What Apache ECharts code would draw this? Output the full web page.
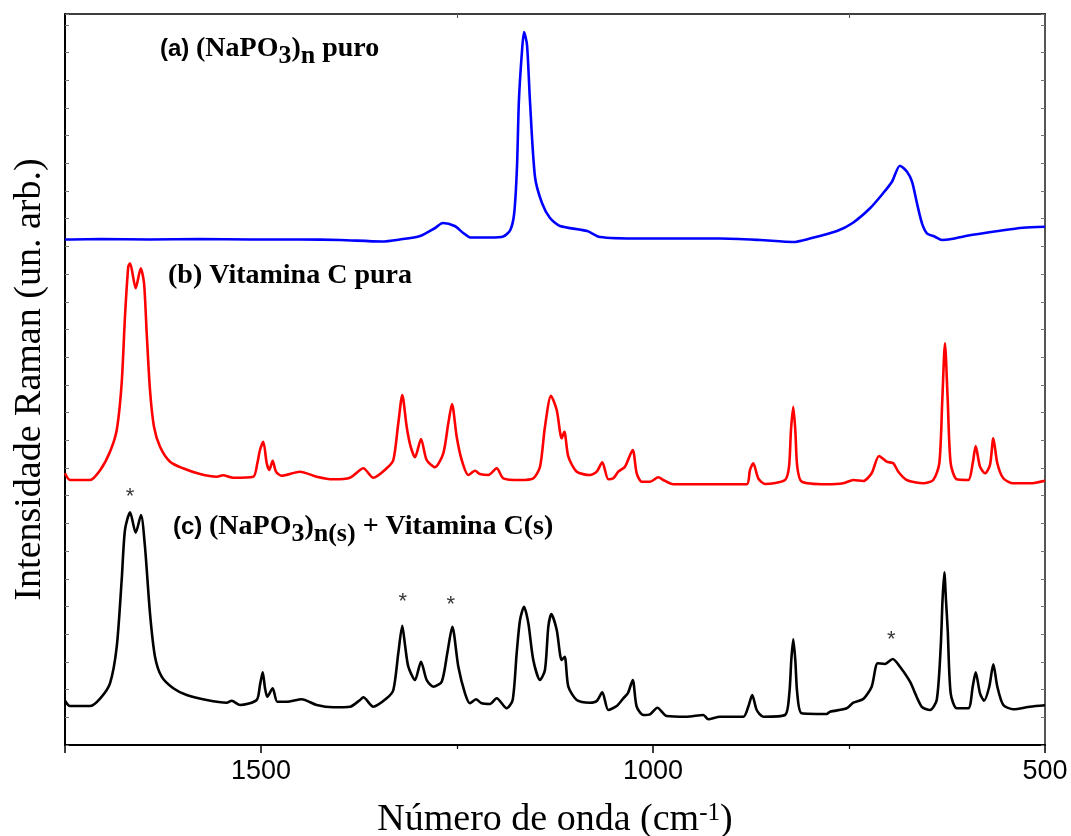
<!DOCTYPE html>
<html>
<head>
<meta charset="utf-8">
<title>Espectros Raman</title>
<script src="https://cdn.jsdelivr.net/npm/echarts/dist/echarts.min.js"></script>
<style>
  html, body { margin: 0; padding: 0; background: #fff; }
  #main { width: 1071px; height: 836px; }
</style>
</head>
<body>
<div id="main"></div>
<script>
// espectros: [numero de onda (cm-1), intensidade acima da linha de base (un. arb.)]
const specA = [
  [1750, 0.5], [1705, 1], [1642, 0.5], [1578, 1], [1514, 0.5], [1450, 0.5], [1399, 0], [1346, -1.5],
  [1323, 0.5], [1297, 4], [1278, 12], [1268, 17], [1253, 14], [1242, 7], [1233, 2.5], [1208, 2.5],
  [1191, 3.5], [1182, 10], [1177, 27], [1173.5, 73], [1171, 140], [1167, 190], [1164.5, 208], [1160.7, 195],
  [1157, 140], [1150.5, 63], [1141.6, 37], [1131.4, 22], [1118.6, 14], [1084, 9], [1067.6, 3], [1016.6, 1.5],
  [965.6, 1.5], [914.5, 1.5], [863.5, 0], [821.4, -2], [799.8, 1.5], [765.3, 9], [744.9, 17.3], [723.2, 31.7],
  [706.6, 46.7], [695.2, 58.3], [685, 74.3], [676, 68.3], [669.6, 58.3], [663.3, 36.7], [656.9, 16.7], [650.5, 6.7],
  [640.3, 3.3], [631.4, 0], [621.2, 0.7], [599.5, 4.3], [557.4, 9.3], [528.1, 12.3], [500, 13.3]
];

const specB = [
  [1750, 9.7], [1743.6, 3], [1718, 3], [1705, 13], [1692.6, 31.3], [1684, 53], [1677.7, 100], [1673.5, 166.3],
  [1669.3, 216.3], [1667, 219.7], [1659.8, 194.7], [1653.4, 214.7], [1649.2, 200], [1645.8, 150], [1641.6, 93], [1636.5, 56.3],
  [1628.8, 36.3], [1616, 21.3], [1599.5, 14.7], [1577.8, 9], [1556.5, 6.3], [1548.5, 7.7], [1535.7, 5.3], [1509.8, 6.3],
  [1504.7, 19.7], [1501.3, 33], [1497.1, 41.3], [1492.7, 19.7], [1489.4, 13], [1485.1, 22.3], [1480.9, 11.3], [1473.6, 7.3],
  [1450.3, 11.3], [1429, 6.3], [1407.8, 3.7], [1386.5, 5.3], [1373.7, 13], [1369.5, 14.7], [1356.8, 5.3], [1339.7, 14.7],
  [1331.2, 23], [1324.9, 59.7], [1319.8, 88], [1314.2, 56.3], [1309.1, 36.3], [1303.6, 25.7], [1295.9, 44], [1288.7, 23],
  [1278.1, 15.7], [1267.5, 29.7], [1261.1, 59.7], [1256.4, 79], [1250.4, 46.3], [1244, 23], [1235.6, 8], [1227, 12.3],
  [1220.7, 9], [1210.1, 8], [1199.4, 14.7], [1190.9, 4.7], [1169.6, 3], [1152.7, 4.7], [1144.1, 16.3], [1137.8, 56.3],
  [1130.1, 87.3], [1122.8, 73], [1116.5, 44.7], [1113.1, 51.3], [1108, 26.3], [1097.3, 11.3], [1080.4, 8], [1071.8, 11.3],
  [1064.7, 20.7], [1057, 3.7], [1050.6, 4.7], [1044.3, 11.3], [1035.7, 16.3], [1025.9, 33], [1020.8, 9.7], [1014.4, 1.3],
  [1003.8, 1.3], [993.2, 5.7], [986.9, 3], [974.1, -1.3], [948.6, -1.3], [914.5, -1.3], [880.5, -1.3], [876.3, 13],
  [872.1, 19.7], [865.7, 4.7], [857.1, -1], [831.6, 3], [826.5, 16.3], [824, 53], [821.1, 76.3], [818.5, 53],
  [816, 16.3], [810.3, 1.3], [778.5, -1.3], [757.3, -0.3], [744.5, 3], [731.8, 2], [721.1, 9.7], [711.7, 27],
  [701.9, 21.3], [693.5, 19.7], [687.1, 11.3], [676.4, 3], [655.2, -0.3], [642.5, 3], [634.8, 19.7], [631, 83],
  [627.6, 139.7], [624.1, 83], [620.3, 19.7], [612.6, 3.7], [597.8, 3], [592.2, 19.7], [588.4, 37], [582.9, 16.3],
  [576.5, 9.7], [570.2, 18], [565.9, 44.7], [560.8, 19.7], [553.2, 4.7], [540.4, -0.3], [519.1, -0.3], [500, 2.3]
];

const specC = [
  [1750, 4.3], [1743.6, -1], [1718, -1], [1705, 6.7], [1692.6, 21.7], [1684, 58.3], [1677.7, 125], [1673.5, 175],
  [1667, 192.7], [1659.8, 172.3], [1653.1, 190], [1648, 158.3], [1641.6, 91.7], [1635.2, 48.3], [1626.7, 28.3], [1611.9, 16.7],
  [1594.8, 10], [1569.3, 5], [1543.7, 2.3], [1537.4, 4.3], [1526.8, 0], [1505.5, 5], [1501.3, 20], [1497.8, 32.7],
  [1494.9, 17], [1492, 8.3], [1485.1, 16.7], [1479.2, 3.3], [1467.2, 3.3], [1448.1, 5.7], [1429, 0], [1407.8, -2.3],
  [1386.5, -1.7], [1373.7, 5], [1369.5, 7.7], [1356.8, -1.7], [1339.7, 6.7], [1331.2, 15], [1324.9, 51.7], [1319.8, 79.3],
  [1316.3, 60], [1312.1, 38.3], [1303.6, 25], [1295.9, 43.3], [1288.7, 25], [1280.2, 18.3], [1269.5, 23.3], [1262.4, 51.7],
  [1256, 78.3], [1248.3, 38.3], [1239.8, 11.7], [1233.4, 1.7], [1225.8, 5.7], [1218.5, 1.7], [1207.9, 1], [1199.4, 6.7],
  [1186.6, -3.3], [1179, 5], [1173.9, 51.7], [1169.6, 85], [1164.5, 98.3], [1159, 81.7], [1152.7, 45], [1144.1, 25],
  [1137.8, 35], [1133.5, 78.3], [1129.7, 91], [1122.8, 75], [1116.5, 45], [1112.6, 48.3], [1108, 18.3], [1097.3, 5],
  [1080.4, 2.3], [1071.8, 4], [1064.7, 12.7], [1057, -5], [1046.3, -1], [1037.9, 6.7], [1031.9, 12], [1025.9, 25],
  [1020.8, -1.7], [1012.4, -10], [1003.8, -9.3], [994.5, -2.7], [982.5, -11], [957, -11.7], [935.8, -10], [929.5, -14.3],
  [914.5, -11.7], [884.8, -11.7], [878.5, -1.7], [873.4, 10], [867.7, -5], [859.3, -11.7], [831.6, -10], [826.1, 11.7],
  [823.6, 45], [821.1, 65.7], [818.5, 45], [816, 11.7], [810.3, -8.3], [778.5, -9], [774.2, -6.7], [752.9, -3.3],
  [744.5, 2.3], [731.8, 6], [721.1, 18.3], [713.4, 41.7], [704.1, 41], [694.3, 46], [685, 38.3], [672.2, 23.3],
  [657.3, -1.7], [646.7, -5], [638.1, 5], [633, 58.3], [630.7, 105], [628.4, 132.7], [626.3, 105], [624.1, 75],
  [620.3, 11.7], [612.6, -3.3], [597.8, -3.3], [592.2, 18.3], [588.4, 32.7], [582.9, 11.7], [577.8, 4.3], [571.1, 18.3],
  [565.9, 40.7], [560.8, 18.3], [553.2, 0], [540.4, -4.3], [519.1, -1.7], [500, -0.3]
];

// picos marcados com * no espectro (c)
const starWn = [1667, 1319, 1258, 696];
const starH = [208, 103, 100, 65];

const xTicks = [500, 1000, 1500];

// deslocamento vertical de cada espectro (empilhamento)
const OFFSET_A = 505;
const OFFSET_B = 262;
const OFFSET_C = 40;

function shift(arr, off) {
  return arr.map(function (p) { return [p[0], p[1] + off]; });
}

var chartDom = document.getElementById('main');
var myChart = echarts.init(chartDom);
var serif = 'Liberation Serif';
var sans = 'Liberation Sans';

var subRich = {
  sa: { fontFamily: sans, fontWeight: 'bold', fontSize: 24, fill: '#000' },
  t: { fontFamily: serif, fontWeight: 'bold', fontSize: 28, fill: '#000' },
  sub: { fontFamily: serif, fontWeight: 'bold', fontSize: 26, fill: '#000', padding: [14, 0, 0, 0] }
};

var option = {
  animation: false,
  backgroundColor: '#fff',
  grid: { left: 65, right: 26, top: 14, bottom: 91, containLabel: false, outerBoundsMode: 'none' },
  xAxis: [
    {
      type: 'value', inverse: true, min: 500, max: 1750, interval: 500,
      axisLine: { show: true, onZero: false, lineStyle: { color: '#000', width: 2 } },
      axisTick: { show: true, length: 8, lineStyle: { color: '#000', width: 1.5 } },
      minorTick: { show: true, splitNumber: 2, length: 4, lineStyle: { color: '#000', width: 1.2 } },
      axisLabel: {
        margin: 13, fontFamily: sans, fontSize: 27, color: '#000',
        formatter: function (v) { return xTicks.indexOf(v) >= 0 ? String(v) : ''; }
      },
      splitLine: { show: false },
      name: '{t|Número de onda (cm}{sup|-1}{t|)}',
      nameLocation: 'middle', nameGap: 56,
      nameTextStyle: {
        rich: {
          t: { fontFamily: serif, fontSize: 38, color: '#000' },
          sup: { fontFamily: serif, fontSize: 25, color: '#000', padding: [0, 0, 14, 0] }
        }
      }
    },
    {
      type: 'value', inverse: true, min: 500, max: 1750, interval: 500, position: 'top',
      axisLine: { show: true, onZero: false, lineStyle: { color: '#000', width: 1.5 } },
      axisTick: { show: true, inside: true, length: 0 },
      minorTick: { show: true, splitNumber: 2, length: 4, lineStyle: { color: '#555', width: 1 } },
      axisLabel: { show: false },
      splitLine: { show: false }
    }
  ],
  yAxis: [
    {
      type: 'value', min: 0, max: 731, interval: 27.7,
      axisLine: { show: true, onZero: false, lineStyle: { color: '#000', width: 2 } },
      axisTick: { show: true, inside: true, length: 4, lineStyle: { color: '#777', width: 1 } },
      axisLabel: { show: false },
      splitLine: { show: false },
      name: 'Intensidade Raman (un. arb.)',
      nameLocation: 'middle', nameGap: 16,
      nameTextStyle: { fontFamily: serif, fontSize: 38, color: '#000' }
    },
    {
      type: 'value', min: 0, max: 731, interval: 27.7, position: 'right',
      axisLine: { show: true, onZero: false, lineStyle: { color: '#555', width: 2 } },
      axisTick: { show: true, inside: true, length: 4, lineStyle: { color: '#777', width: 1 } },
      axisLabel: { show: false },
      splitLine: { show: false }
    }
  ],
  series: [
    {
      name: '(a)', type: 'line', data: shift(specA, OFFSET_A),
      showSymbol: false, smooth: 0.25, lineStyle: { color: '#0000ff', width: 2.6 }
    },
    {
      name: '(b)', type: 'line', data: shift(specB, OFFSET_B),
      showSymbol: false, smooth: 0.25, lineStyle: { color: '#ff0000', width: 2.6 }
    },
    {
      name: '(c)', type: 'line', data: shift(specC, OFFSET_C),
      showSymbol: false, smooth: 0.25, lineStyle: { color: '#000', width: 2.6 }
    },
    {
      name: 'picos', type: 'scatter', symbolSize: 0,
      data: starWn.map(function (w, i) { return [w, starH[i] + OFFSET_C]; }),
      label: { show: true, position: 'inside', formatter: '*', fontFamily: sans, fontSize: 22, color: '#000' }
    }
  ],
  graphic: [
    {
      type: 'text', x: 160, y: 49,
      style: {
        text: '{sa|(a) }{t|(NaPO}{sub|3}{t|)}{sub|n}{t| puro}',
        verticalAlign: 'middle',
        rich: subRich
      }
    },
    {
      type: 'text', x: 168, y: 276,
      style: {
        text: '(b) Vitamina C pura', verticalAlign: 'middle',
        font: 'bold 28px "Liberation Serif"', fill: '#000'
      }
    },
    {
      type: 'text', x: 173, y: 527,
      style: {
        text: '{sa|(c) }{t|(NaPO}{sub|3}{t|)}{sub|n(s)}{t| + Vitamina C(s)}',
        verticalAlign: 'middle',
        rich: subRich
      }
    }
  ]
};

option && myChart.setOption(option);
</script>
</body>
</html>
